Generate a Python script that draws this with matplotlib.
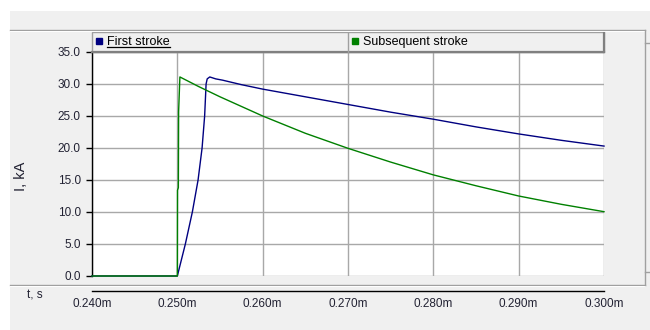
import numpy as np
import matplotlib
matplotlib.use("Agg")
from matplotlib import pyplot as plt
from matplotlib.legend import Legend
from matplotlib.lines import Line2D
from matplotlib.patches import Rectangle
from matplotlib.ticker import FixedLocator, FuncFormatter

# time axis in ms-units shown with an "m" suffix, current in kA
first_t = [0.240, 0.2500, 0.25094, 0.25176, 0.25243, 0.2529, 0.2532, 0.25337, 0.2535,
           0.2538, 0.2545, 0.2553, 0.2575, 0.260, 0.265, 0.270, 0.275, 0.280, 0.285,
           0.290, 0.295, 0.300]
first_i = [0.0, 0.0, 5.0, 10.0, 15.0, 20.0, 25.0, 30.0, 30.8,
           31.1, 30.8, 30.6, 29.9, 29.2, 28.0, 26.8, 25.6, 24.5, 23.3,
           22.2, 21.2, 20.3]

sub_t = [0.240, 0.2500, 0.25002, 0.25012, 0.25015, 0.2503, 0.2525, 0.255, 0.2575,
         0.260, 0.265, 0.270, 0.275, 0.280, 0.285, 0.290, 0.295, 0.300]
sub_i = [0.0, 0.0, 13.4, 13.8, 25.7, 31.1, 29.6, 28.0, 26.5,
         25.0, 22.3, 19.95, 17.8, 15.8, 14.1, 12.5, 11.2, 10.05]

series_names = ["First stroke", "Subsequent stroke"]
series_colors = ["#000080", "#008000"]
x_ticks = [0.240, 0.250, 0.260, 0.270, 0.280, 0.290, 0.300]
y_ticks = [0, 5, 10, 15, 20, 25, 30, 35]

plt.rcParams['font.family'] = ['Liberation Sans', 'DejaVu Sans']
txt_color = "#222233"

W, H = 650, 330
fig = plt.figure(figsize=(W / 100, H / 100), dpi=100)
fig.patch.set_facecolor("white")

def fx(px):
    return px / W

def fy(py):
    return 1 - py / H

# grey window panel
fig.add_artist(Rectangle((fx(10), 0), fx(640), 1 - 11 / H, transform=fig.transFigure,
                         facecolor="#f0f0f0", edgecolor="none", zorder=-10))
# separators of the window
for yy in (30, 285):
    fig.add_artist(Line2D([fx(10), fx(645)], [fy(yy), fy(yy)], transform=fig.transFigure,
                          color="#a0a0a0", lw=1))
    fig.add_artist(Line2D([fx(10), fx(645)], [fy(yy + 1), fy(yy + 1)], transform=fig.transFigure,
                          color="white", lw=0.7))
fig.add_artist(Line2D([fx(645), fx(645)], [fy(30), fy(285)], transform=fig.transFigure,
                      color="#a0a0a0", lw=1))
for yy in (43, 272):
    fig.add_artist(Line2D([fx(645), fx(650)], [fy(yy), fy(yy)], transform=fig.transFigure,
                          color="#a0a0a0", lw=1))

# plot area
left, right, top, bottom = 92, 604, 52, 276
ax = fig.add_axes([fx(left), fy(bottom), fx(right - left), (bottom - top) / H])
ax.set_facecolor("white")

ax.plot(first_t, first_i, color=series_colors[0], lw=1.0, clip_on=False, zorder=3)
ax.plot(sub_t, sub_i, color=series_colors[1], lw=1.0, clip_on=False, zorder=4)

ax.set_xlim(0.240, 0.300)
ax.set_ylim(0, 35)
ax.xaxis.set_major_locator(FixedLocator(x_ticks))
ax.xaxis.set_minor_locator(FixedLocator([x_ticks[0], x_ticks[-1]]))
ax.xaxis.set_major_formatter(FuncFormatter(lambda v, p: "%.3fm" % v))
ax.yaxis.set_major_locator(FixedLocator(y_ticks))
ax.yaxis.set_major_formatter(FuncFormatter(lambda v, p: "%.1f" % v))

ax.grid(True, color="#a8a8a8", lw=1.0)
ax.set_axisbelow(True)

for s in ("top", "right"):
    ax.spines[s].set_visible(False)
ax.spines["left"].set_color("black")
ax.spines["left"].set_linewidth(1.0)
ax.spines["bottom"].set_position(("outward", 11))
ax.spines["bottom"].set_color("black")
ax.spines["bottom"].set_linewidth(1.0)

ax.tick_params(axis="x", which="major", length=0, pad=5, labelsize=8.5, labelcolor=txt_color)
ax.tick_params(axis="x", which="minor", length=4, width=1, color="black")
ax.tick_params(axis="y", length=4.5, width=1, pad=3.5, labelsize=8.5, labelcolor=txt_color)

ax.set_ylabel("I, kA", fontsize=10.5, color=txt_color)
ax.yaxis.set_label_coords((21 - left) / (right - left), (bottom - 176) / (bottom - top))
ax.yaxis.label.set_verticalalignment("center")
ax.set_xlabel("t, s", fontsize=8.5, color=txt_color)
ax.xaxis.set_label_coords((35 - left) / (right - left), (bottom - 296) / (bottom - top))
ax.xaxis.label.set_verticalalignment("center")

# legend bar above the plot
lh = (52 - 32) / (bottom - top)
ax.add_patch(Rectangle((0, 1), 1, lh, transform=ax.transAxes, facecolor="#f0f0f0",
                       edgecolor="#a0a0a0", lw=1, clip_on=False, zorder=5))
ax.add_line(Line2D([0, 1], [1, 1], transform=ax.transAxes, color="#808080", lw=1.6,
                   clip_on=False, zorder=6))
ax.add_line(Line2D([1, 1], [1, 1 + lh], transform=ax.transAxes, color="#808080", lw=1.6,
                   clip_on=False, zorder=6))
ax.add_line(Line2D([0.5, 0.5], [1, 1 + lh], transform=ax.transAxes, color="#a0a0a0",
                   lw=1, clip_on=False, zorder=6))

legends = []
for k, (name, col) in enumerate(zip(series_names, series_colors)):
    h = Line2D([], [], marker="s", ls="none", markersize=4.5, color=col)
    leg = Legend(ax, [h], [name], loc="center left", bbox_to_anchor=(0.5 * k, 1, 0.5, lh),
                 borderaxespad=0, frameon=False, fontsize=9, handlelength=0.6,
                 handletextpad=0.35, borderpad=0.26)
    leg.set_zorder(7)
    ax.add_artist(leg)
    legends.append(leg)

# underline for the selected legend entry
fig.canvas.draw()
bb = legends[0].get_texts()[0].get_window_extent()
inv = fig.transFigure.inverted()
(x0, y0), (x1, _) = inv.transform([(bb.x0, bb.y0), (bb.x1, bb.y0)])
fig.add_artist(Line2D([x0, x1], [y0 + 0.004, y0 + 0.004], transform=fig.transFigure,
                      color="black", lw=0.9, zorder=8))

fig.savefig("out.png", dpi=100)
